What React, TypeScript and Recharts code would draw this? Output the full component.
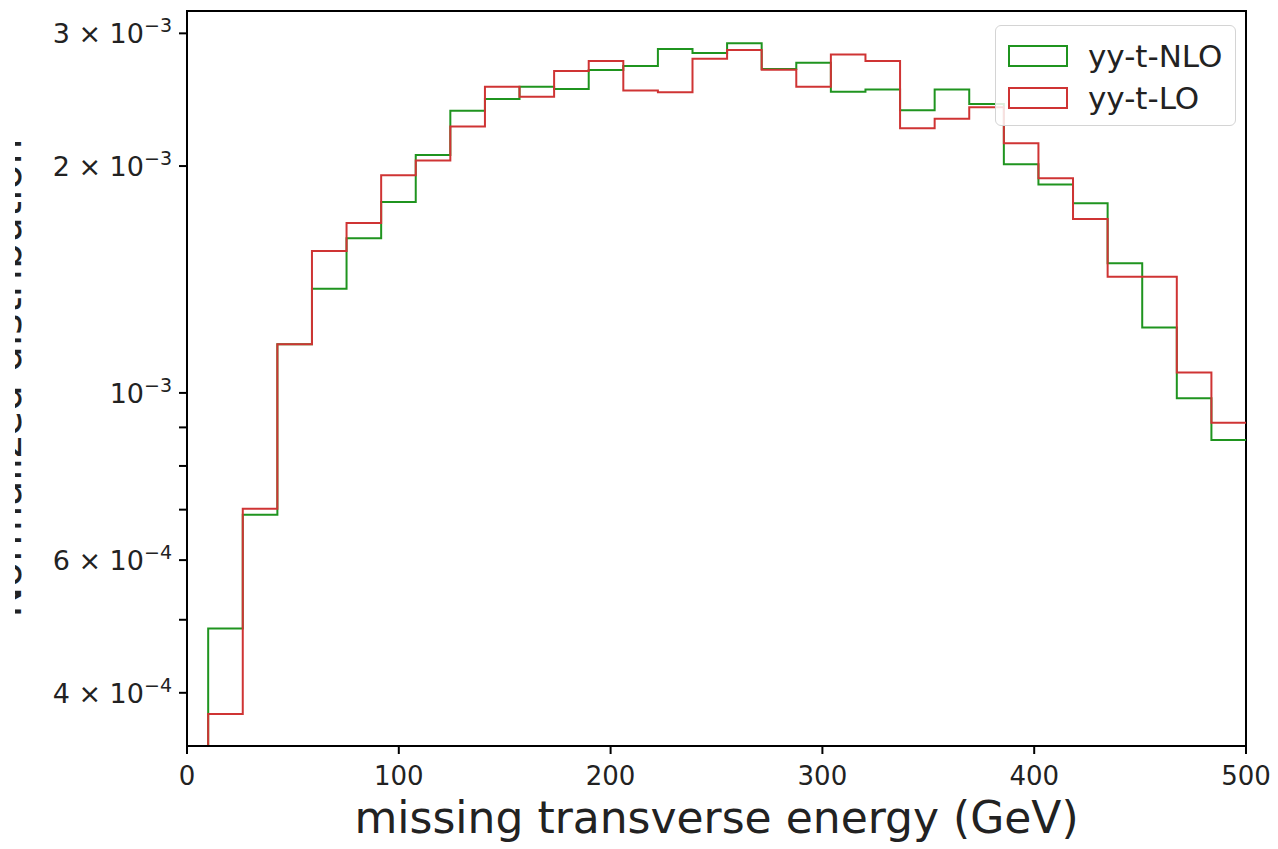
import React from "react";
import { Line, LineChart, ReferenceArea, XAxis, YAxis } from "recharts";

// 30 bins between 10 and 500 GeV (left edges + final right edge)
const BIN_EDGES = [
  10, 26.33, 42.67, 59, 75.33, 91.67, 108, 124.33, 140.67, 157, 173.33, 189.67,
  206, 222.33, 238.67, 255, 271.33, 287.67, 304, 320.33, 336.67, 353, 369.33,
  385.67, 402, 418.33, 434.67, 451, 467.33, 483.67, 500,
];

// normalized counts per bin
const NLO = [
  4.87e-4, 6.89e-4, 1.16e-3, 1.375e-3, 1.604e-3, 1.792e-3, 2.069e-3, 2.368e-3,
  2.454e-3, 2.548e-3, 2.53e-3, 2.682e-3, 2.715e-3, 2.859e-3, 2.825e-3, 2.91e-3,
  2.69e-3, 2.742e-3, 2.51e-3, 2.528e-3, 2.371e-3, 2.528e-3, 2.417e-3, 2.011e-3,
  1.891e-3, 1.785e-3, 1.486e-3, 1.221e-3, 9.84e-4, 8.66e-4,
];
const LO = [
  3.75e-4, 7.02e-4, 1.16e-3, 1.543e-3, 1.68e-3, 1.944e-3, 2.035e-3, 2.257e-3,
  2.548e-3, 2.472e-3, 2.674e-3, 2.756e-3, 2.519e-3, 2.505e-3, 2.777e-3, 2.851e-3,
  2.685e-3, 2.548e-3, 2.812e-3, 2.756e-3, 2.245e-3, 2.311e-3, 2.393e-3, 2.144e-3,
  1.927e-3, 1.701e-3, 1.426e-3, 1.426e-3, 1.064e-3, 9.13e-4,
];

const X_TICKS = [0, 100, 200, 300, 400, 500];
const Y_TICKS = [4e-4, 5e-4, 6e-4, 7e-4, 8e-4, 9e-4, 1e-3, 2e-3, 3e-3];
const Y_LABELED = [4e-4, 6e-4, 1e-3, 2e-3, 3e-3];

const SERIES = [
  { key: "nlo", name: "yy-t-NLO", color: "#1f941f" },
  { key: "lo", name: "yy-t-LO", color: "#cf3434" },
];

const Y_MIN = 3.4e-4;
const Y_MAX = 3.212e-3;
const FONT = "DejaVu Sans";

// matplotlib step histogram: rise from the floor at the first edge,
// then hold each bin value until the next edge
function buildSteps() {
  const rows: { x: number; nlo: number; lo: number }[] = [
    { x: BIN_EDGES[0], nlo: Y_MIN, lo: Y_MIN },
  ];
  NLO.forEach((v, i) => rows.push({ x: BIN_EDGES[i], nlo: v, lo: LO[i] }));
  const last = NLO.length - 1;
  rows.push({ x: BIN_EDGES[last + 1], nlo: NLO[last], lo: LO[last] });
  return rows;
}

function XTick({ x, y, payload }: any) {
  return (
    <text
      x={x}
      y={y + 29}
      textAnchor="middle"
      fontFamily={FONT}
      fontSize={26}
      fill="#222"
    >
      {payload.value}
    </text>
  );
}

function YTick({ x, y, payload }: any) {
  const v: number = payload.value;
  if (!Y_LABELED.some((t) => Math.abs(t - v) / t < 1e-6)) return null;
  const exp = Math.floor(Math.log10(v) + 1e-9);
  const mant = Math.round(v / Math.pow(10, exp));
  return (
    <text
      x={x - 5}
      y={y + 10}
      textAnchor="end"
      fontFamily={FONT}
      fontSize={27}
      fill="#222"
    >
      <tspan>{mant === 1 ? "10" : `${mant} × 10`}</tspan>
      <tspan dy={-11} fontSize={19}>
        {`\u2212${-exp}`}
      </tspan>
    </text>
  );
}

function HistLegend() {
  return (
    <div
      style={{
        position: "absolute",
        left: 995,
        top: 25,
        width: 241,
        height: 101,
        border: "1.5px solid #d4d4d4",
        borderRadius: 6,
        background: "rgba(255,255,255,0.85)",
        boxSizing: "border-box",
        padding: "9px 0 0 12px",
        fontFamily: FONT,
        fontSize: 31,
        color: "#222",
      }}
    >
      {SERIES.map((s) => (
        <div
          key={s.key}
          style={{ display: "flex", alignItems: "center", height: 42 }}
        >
          <span
            style={{
              display: "inline-block",
              width: 60,
              height: 22,
              border: `2.5px solid ${s.color}`,
              boxSizing: "border-box",
              marginRight: 20,
            }}
          />
          <span>{s.name}</span>
        </div>
      ))}
    </div>
  );
}

export default function App() {
  const data = buildSteps();
  return (
    <div
      style={{
        position: "absolute",
        left: 0,
        top: 0,
        width: 1278,
        height: 849,
        background: "#fff",
        overflow: "hidden",
      }}
    >
      {/* y label is cropped at the image edge in the original */}
      <div
        style={{
          position: "absolute",
          left: 15,
          top: 0,
          width: 7,
          height: 849,
          overflow: "hidden",
        }}
      >
        <svg width={7} height={849}>
          <text
            x={6}
            y={378}
            transform="rotate(-90, 6, 378)"
            textAnchor="middle"
            fontFamily={FONT}
            fontSize={41}
            fill="#222"
          >
            Normalized distribution
          </text>
        </svg>
      </div>
      <LineChart
        width={1278}
        height={849}
        data={data}
        margin={{ top: 11, right: 32, bottom: 0, left: 0 }}
      >
        <XAxis
          dataKey="x"
          type="number"
          domain={[0, 500]}
          ticks={X_TICKS}
          allowDataOverflow
          height={103}
          stroke="#000"
          strokeWidth={2}
          tickSize={8}
          tick={<XTick />}
          label={{
            content: ({ viewBox }: any) => (
              <text
                x={viewBox.x + viewBox.width / 2}
                y={viewBox.y + 87}
                textAnchor="middle"
                fontFamily={FONT}
                fontSize={44}
                fill="#222"
              >
                missing transverse energy (GeV)
              </text>
            ),
          }}
        />
        <YAxis
          type="number"
          scale="log"
          domain={[Y_MIN, Y_MAX]}
          ticks={Y_TICKS}
          allowDataOverflow
          width={187}
          stroke="#000"
          strokeWidth={2}
          tickSize={8}
          tick={<YTick />}
        />
        <ReferenceArea
          x1={0}
          x2={500}
          y1={Y_MIN}
          y2={Y_MAX}
          fill="none"
          stroke="#000"
          strokeWidth={2}
          fillOpacity={0}
        />
        {SERIES.map((s) => (
          <Line
            key={s.key}
            dataKey={s.key}
            name={s.name}
            type="stepAfter"
            stroke={s.color}
            strokeWidth={2}
            dot={false}
            activeDot={false}
            isAnimationActive={false}
          />
        ))}
      </LineChart>
      <HistLegend />
    </div>
  );
}
